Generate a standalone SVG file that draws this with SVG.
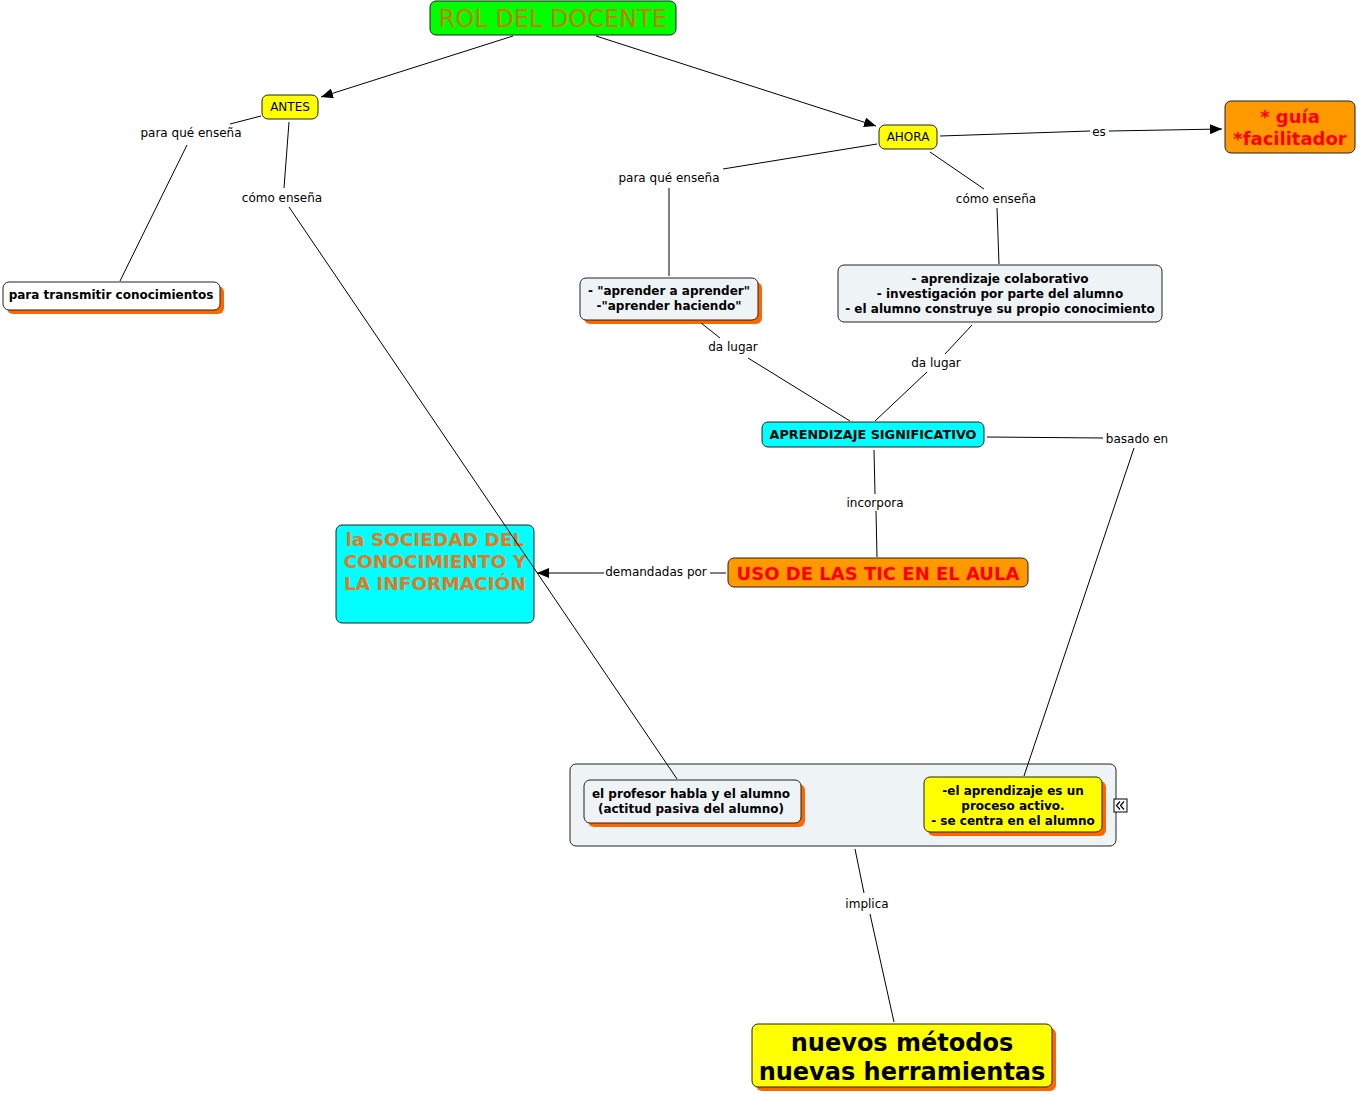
<svg xmlns="http://www.w3.org/2000/svg" width="1358" height="1095" viewBox="0 0 1358 1095">
<style>
text{font-family:"DejaVu Sans","Liberation Sans",sans-serif;text-anchor:middle;fill:#000}
.lbl{font-size:12px}
.b{font-weight:bold}
.box{stroke:#222;stroke-width:1}
.sh{fill:#ff6600}
.ln{stroke:#000;stroke-width:1;fill:none}
</style>
<defs>
<marker id="arr" viewBox="0 0 12 10" refX="12" refY="5" markerWidth="12" markerHeight="10" markerUnits="userSpaceOnUse" orient="auto"><path d="M0,0 L12,5 L0,10 z" fill="#000"/></marker>
</defs>
<rect width="1358" height="1095" fill="#fff"/>

<g id="n-rol">
<rect class="box" x="430" y="1" width="246" height="34" rx="6" fill="#00ff00"/>
<text x="553" y="27" font-size="24" style="fill:#cc7a00">ROL DEL DOCENTE</text>
</g>

<g id="n-antes">
<rect class="box" x="262" y="95" width="56" height="24" rx="6" fill="#ffff00"/>
<text x="290" y="111" font-size="12">ANTES</text>
</g>

<g id="n-ahora">
<rect class="box" x="879" y="125" width="58" height="24" rx="6" fill="#ffff00"/>
<text x="908" y="141" font-size="12">AHORA</text>
</g>

<g id="n-guia">
<rect class="box" x="1225" y="101" width="130" height="52" rx="6" fill="#ff9900"/>
<text class="b" x="1290" y="123" font-size="18" style="fill:#ff0000">* guía</text>
<text class="b" x="1290" y="145" font-size="18" style="fill:#ff0000">*facilitador</text>
</g>

<g id="n-transmitir">
<rect class="sh" x="7" y="286" width="217" height="28" rx="6"/>
<rect class="box" x="3" y="282" width="217" height="28" rx="6" fill="#ffffff"/>
<text class="b" x="111" y="299" font-size="12">para transmitir conocimientos</text>
</g>

<g id="n-aprender">
<rect class="sh" x="584" y="282" width="178" height="42" rx="6"/>
<rect class="box" x="580" y="278" width="178" height="42" rx="6" fill="#eef3f5"/>
<text class="b" x="669" y="295" font-size="12">- "aprender a aprender"</text>
<text class="b" x="669" y="310" font-size="12">-"aprender haciendo"</text>
</g>

<g id="n-colaborativo">
<rect class="box" x="838" y="265" width="324" height="57" rx="6" fill="#eef3f5"/>
<text class="b" x="1000" y="283" font-size="12">- aprendizaje colaborativo</text>
<text class="b" x="1000" y="298" font-size="12">- investigación por parte del alumno</text>
<text class="b" x="1000" y="313" font-size="12">- el alumno construye su propio conocimiento</text>
</g>

<g id="n-significativo">
<rect class="box" x="762" y="422" width="222" height="25" rx="6" fill="#00ffff"/>
<text class="b" x="873" y="439" font-size="12.8">APRENDIZAJE SIGNIFICATIVO</text>
</g>

<g id="n-tic">
<rect class="box" x="728" y="558" width="300" height="29" rx="6" fill="#ff9900"/>
<text class="b" x="878" y="580" font-size="18">
<tspan style="fill:#ff0000">USO DE LAS TIC EN EL AULA</tspan></text>
</g>

<g id="n-sociedad">
<rect class="box" x="336" y="525" width="198" height="98" rx="6" fill="#00ffff"/>
<text class="b" x="435" y="546" font-size="18.5" style="fill:#e87722">la SOCIEDAD DEL</text>
<text class="b" x="435" y="568" font-size="18.5" style="fill:#e87722">CONOCIMIENTO Y</text>
<text class="b" x="435" y="590" font-size="18.5" style="fill:#e87722">LA INFORMACIÓN</text>
</g>

<g id="n-grupo">
<rect class="box" x="570" y="764" width="546" height="82" rx="6" fill="#eef3f5"/>
<rect x="1114" y="799" width="13" height="13" fill="#fff" stroke="#000" stroke-width="1"/>
<path d="M1120,801.5 L1116.5,805.5 L1120,809.5 M1124,801.5 L1120.5,805.5 L1124,809.5" fill="none" stroke="#000" stroke-width="1.2"/>
</g>

<g id="n-profesor">
<rect class="sh" x="588" y="784" width="217" height="43" rx="6"/>
<rect class="box" x="584" y="780" width="217" height="43" rx="6" fill="#eef3f5"/>
<text class="b" x="691" y="798" font-size="12">el profesor habla y el alumno</text>
<text class="b" x="691" y="813" font-size="12"> (actitud pasiva del alumno)</text>
</g>

<g id="n-activo">
<rect class="sh" x="928" y="781" width="178" height="55" rx="6"/>
<rect class="box" x="924" y="777" width="178" height="55" rx="6" fill="#ffff00"/>
<text class="b" x="1013" y="795" font-size="12">-el aprendizaje es un</text>
<text class="b" x="1013" y="810" font-size="12">proceso activo.</text>
<text class="b" x="1013" y="825" font-size="12">- se centra en el alumno</text>
</g>

<g id="n-nuevos">
<rect class="sh" x="756" y="1028" width="300" height="63" rx="6"/>
<rect class="box" x="752" y="1024" width="300" height="63" rx="6" fill="#ffff00"/>
<text class="b" x="902" y="1051" font-size="24">nuevos métodos</text>
<text class="b" x="902" y="1080" font-size="24">nuevas herramientas</text>
</g>

<g id="connectors">
<line class="ln" x1="513" y1="36" x2="321" y2="97" marker-end="url(#arr)"/>
<line class="ln" x1="596" y1="36" x2="876" y2="126" marker-end="url(#arr)"/>
<line class="ln" x1="261" y1="116" x2="230" y2="124"/>
<line class="ln" x1="187" y1="145" x2="120" y2="281"/>
<line class="ln" x1="289" y1="122" x2="284" y2="188"/>
<line class="ln" x1="289" y1="207" x2="677" y2="779"/>
<line class="ln" x1="877" y1="144" x2="723" y2="169"/>
<line class="ln" x1="669" y1="188" x2="669" y2="276"/>
<line class="ln" x1="930" y1="152" x2="984" y2="189"/>
<line class="ln" x1="997" y1="208" x2="999" y2="264"/>
<line class="ln" x1="940" y1="136" x2="1090" y2="131"/>
<line class="ln" x1="1109" y1="131" x2="1222" y2="129" marker-end="url(#arr)"/>
<line class="ln" x1="701" y1="323" x2="720" y2="338"/>
<line class="ln" x1="748" y1="358" x2="850" y2="421"/>
<line class="ln" x1="972" y1="325" x2="945" y2="354"/>
<line class="ln" x1="927" y1="372" x2="875" y2="421"/>
<line class="ln" x1="874" y1="450" x2="875" y2="494"/>
<line class="ln" x1="876" y1="511" x2="877" y2="557"/>
<line class="ln" x1="987" y1="437" x2="1103" y2="438"/>
<line class="ln" x1="1134" y1="448" x2="1024" y2="776"/>
<line class="ln" x1="726" y1="573" x2="710" y2="573"/>
<line class="ln" x1="604" y1="573" x2="537" y2="573" marker-end="url(#arr)"/>
<line class="ln" x1="855" y1="849" x2="864" y2="893"/>
<line class="ln" x1="870" y1="914" x2="894" y2="1022"/>
</g>

<g id="labels">
<text class="lbl" x="191" y="137">para qué enseña</text>
<text class="lbl" x="282" y="202">cómo enseña</text>
<text class="lbl" x="669" y="182">para qué enseña</text>
<text class="lbl" x="996" y="203">cómo enseña</text>
<text class="lbl" x="1099" y="136">es</text>
<text class="lbl" x="733" y="351">da lugar</text>
<text class="lbl" x="936" y="367">da lugar</text>
<text class="lbl" x="875" y="507">incorpora</text>
<text class="lbl" x="1137" y="443">basado en</text>
<text class="lbl" x="656" y="576">demandadas por</text>
<text class="lbl" x="867" y="908">implica</text>
</g>
</svg>
